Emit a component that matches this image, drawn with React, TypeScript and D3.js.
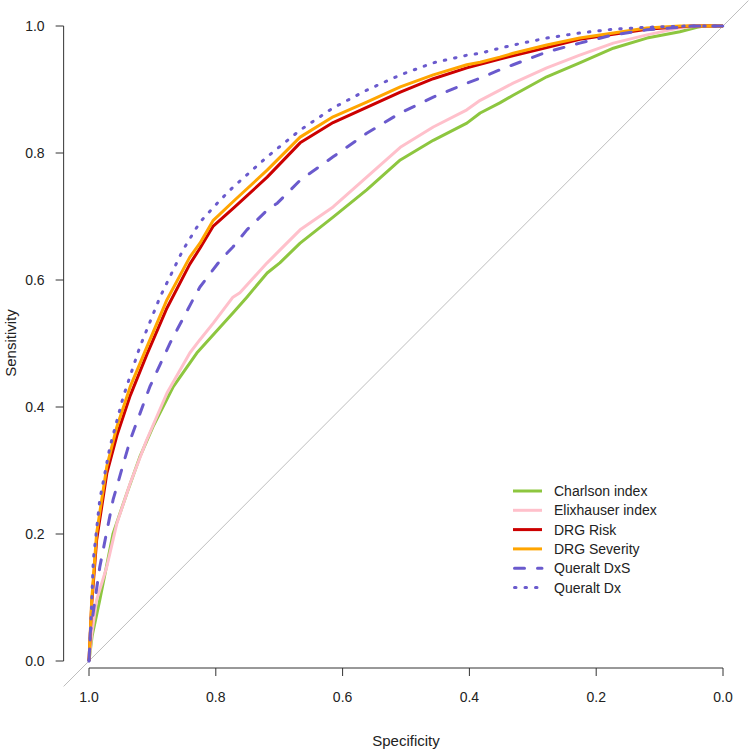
import React from "react";
import * as d3 from "d3";

// [specificity, sensitivity]
const charlson: [number, number][] = [
  [1, 0], [0.995, 0.04], [0.983, 0.096], [0.962, 0.201], [0.94, 0.265], [0.92, 0.321],
  [0.899, 0.369], [0.867, 0.432], [0.83, 0.485], [0.793, 0.526], [0.773, 0.548],
  [0.751, 0.573], [0.719, 0.611], [0.699, 0.627], [0.667, 0.658], [0.615, 0.699],
  [0.562, 0.742], [0.509, 0.789], [0.457, 0.82], [0.404, 0.847], [0.383, 0.863],
  [0.352, 0.879], [0.331, 0.891], [0.278, 0.92], [0.226, 0.942], [0.173, 0.965],
  [0.12, 0.981], [0.068, 0.991], [0.041, 0.998], [0.03, 1], [0, 1],
];
const elixhauser: [number, number][] = [
  [1, 0], [0.996, 0.04], [0.988, 0.096], [0.972, 0.148], [0.956, 0.217], [0.935, 0.28],
  [0.909, 0.348], [0.877, 0.422], [0.841, 0.485], [0.825, 0.506], [0.804, 0.532],
  [0.773, 0.573], [0.762, 0.58], [0.719, 0.627], [0.699, 0.647], [0.667, 0.679],
  [0.615, 0.715], [0.562, 0.762], [0.509, 0.809], [0.457, 0.841], [0.404, 0.868],
  [0.383, 0.883], [0.352, 0.899], [0.331, 0.91], [0.278, 0.934], [0.226, 0.954],
  [0.173, 0.973], [0.12, 0.986], [0.068, 0.997], [0.041, 1], [0, 1],
];
const drgRisk: [number, number][] = [
  [1, 0], [0.9957, 0.09], [0.988, 0.19], [0.972, 0.295], [0.956, 0.355], [0.935, 0.418],
  [0.909, 0.482], [0.877, 0.556], [0.841, 0.625], [0.825, 0.65], [0.804, 0.685],
  [0.77, 0.715], [0.719, 0.762], [0.667, 0.816], [0.615, 0.848], [0.562, 0.872],
  [0.509, 0.896], [0.457, 0.917], [0.404, 0.934], [0.352, 0.948], [0.278, 0.966],
  [0.226, 0.979], [0.173, 0.987], [0.12, 0.995], [0.068, 0.999], [0.05, 1], [0, 1],
];
const drgSeverity: [number, number][] = [
  [1, 0], [0.9957, 0.096], [0.988, 0.201], [0.972, 0.306], [0.956, 0.369], [0.935, 0.432],
  [0.909, 0.494], [0.877, 0.569], [0.841, 0.636], [0.825, 0.658], [0.804, 0.694],
  [0.77, 0.726], [0.719, 0.773], [0.667, 0.825], [0.615, 0.857], [0.562, 0.88],
  [0.509, 0.904], [0.457, 0.923], [0.404, 0.939], [0.383, 0.943], [0.352, 0.951],
  [0.331, 0.957], [0.278, 0.97], [0.226, 0.981], [0.173, 0.989], [0.12, 0.997],
  [0.068, 1], [0, 1],
];
const queraltDxS: [number, number][] = [
  [1, 0], [0.998, 0.044], [0.983, 0.148], [0.962, 0.254], [0.935, 0.348], [0.904, 0.432],
  [0.872, 0.501], [0.836, 0.569], [0.825, 0.589], [0.793, 0.631], [0.773, 0.652],
  [0.751, 0.679], [0.719, 0.71], [0.703, 0.721], [0.667, 0.757], [0.615, 0.794],
  [0.562, 0.831], [0.509, 0.863], [0.457, 0.888], [0.404, 0.91], [0.383, 0.918],
  [0.352, 0.931], [0.331, 0.939], [0.278, 0.959], [0.226, 0.973], [0.173, 0.986],
  [0.12, 0.994], [0.068, 0.998], [0.05, 1], [0, 1],
];
const queraltDx: [number, number][] = [
  [1, 0], [0.9985, 0.03], [0.9973, 0.054], [0.9932, 0.159], [0.983, 0.254], [0.967, 0.337],
  [0.946, 0.416], [0.92, 0.494], [0.888, 0.573], [0.852, 0.647], [0.825, 0.691],
  [0.793, 0.726], [0.773, 0.746], [0.719, 0.794], [0.667, 0.836], [0.615, 0.871],
  [0.562, 0.899], [0.509, 0.923], [0.457, 0.942], [0.404, 0.954], [0.383, 0.957],
  [0.352, 0.965], [0.331, 0.97], [0.278, 0.981], [0.226, 0.989], [0.173, 0.995],
  [0.12, 0.998], [0.057, 1], [0, 1],
];

const seriesNames = ["Charlson index", "Elixhauser index", "DRG Risk", "DRG Severity", "Queralt DxS", "Queralt Dx"];
const seriesData = [charlson, elixhauser, drgRisk, drgSeverity, queraltDxS, queraltDx];
const seriesColors = ["#8DC63F", "#FFC0CB", "#CC0000", "#FFA500", "#6A5ACD", "#6A5ACD"];
const seriesDash = ["", "", "", "", "10,13", "1.5,9"];

const axisTicks = [0, 0.2, 0.4, 0.6, 0.8, 1.0];

const FONT = "'Liberation Sans', Arial, Helvetica, sans-serif";

export default function App() {
  const x = d3.scaleLinear().domain([1, 0]).range([89, 723]);
  const y = d3.scaleLinear().domain([0, 1]).range([661, 26]);
  const line = d3
    .line<[number, number]>()
    .x((d) => x(d[0]))
    .y((d) => y(d[1]));

  const axisColor = "#333";
  const xAxisY = 668;
  const yAxisX = x(1.04);

  return (
    <svg
      width={750}
      height={752}
      style={{ position: "absolute", left: 0, top: 0, background: "#fff" }}
      fontFamily={FONT}
    >
      <rect x={0} y={0} width={750} height={752} fill="#fff" />
      {/* identity line */}
      <line
        x1={x(1.04)}
        y1={y(-0.04)}
        x2={x(-0.04)}
        y2={y(1.04)}
        stroke="#BEBEBE"
        strokeWidth={1}
      />
      {/* curves */}
      {seriesData.map((d, i) => (
        <path
          key={seriesNames[i]}
          d={line(d) || ""}
          fill="none"
          stroke={seriesColors[i]}
          strokeWidth={3}
          strokeDasharray={seriesDash[i] || undefined}
          strokeLinecap={seriesDash[i] ? "round" : "butt"}
          strokeLinejoin="round"
        />
      ))}
      {/* y axis */}
      <line x1={yAxisX} x2={yAxisX} y1={y(0)} y2={y(1)} stroke={axisColor} strokeWidth={1} />
      {axisTicks.map((t) => (
        <g key={"y" + t}>
          <line x1={yAxisX - 8} x2={yAxisX} y1={y(t)} y2={y(t)} stroke={axisColor} strokeWidth={1} />
          <text
            x={yAxisX - 19}
            y={y(t)}
            dy="0.36em"
            textAnchor="end"
            fontSize={14}
            fill="#222"
          >
            {t.toFixed(1)}
          </text>
        </g>
      ))}
      {/* x axis */}
      <line x1={x(1)} x2={x(0)} y1={xAxisY} y2={xAxisY} stroke={axisColor} strokeWidth={1} />
      {axisTicks.map((t) => (
        <g key={"x" + t}>
          <line x1={x(t)} x2={x(t)} y1={xAxisY} y2={xAxisY + 8} stroke={axisColor} strokeWidth={1} />
          <text x={x(t)} y={702} textAnchor="middle" fontSize={14} fill="#222">
            {t.toFixed(1)}
          </text>
        </g>
      ))}
      {/* axis titles */}
      <text x={406} y={746} textAnchor="middle" fontSize={15} fill="#222">
        Specificity
      </text>
      <text
        transform={`translate(16,${343}) rotate(-90)`}
        textAnchor="middle"
        fontSize={15}
        fill="#222"
      >
        Sensitivity
      </text>
      {/* legend */}
      {seriesNames.map((name, i) => {
        const ly = 491 + i * 19.3;
        return (
          <g key={"leg" + name}>
            <line
              x1={seriesDash[i] ? 514.5 : 513}
              x2={542}
              y1={ly}
              y2={ly}
              stroke={seriesColors[i]}
              strokeWidth={3}
              strokeDasharray={seriesDash[i] || undefined}
              strokeLinecap={seriesDash[i] ? "round" : "butt"}
            />
            <text x={554} y={ly} dy="0.36em" fontSize={14} fill="#222">
              {name}
            </text>
          </g>
        );
      })}
    </svg>
  );
}
